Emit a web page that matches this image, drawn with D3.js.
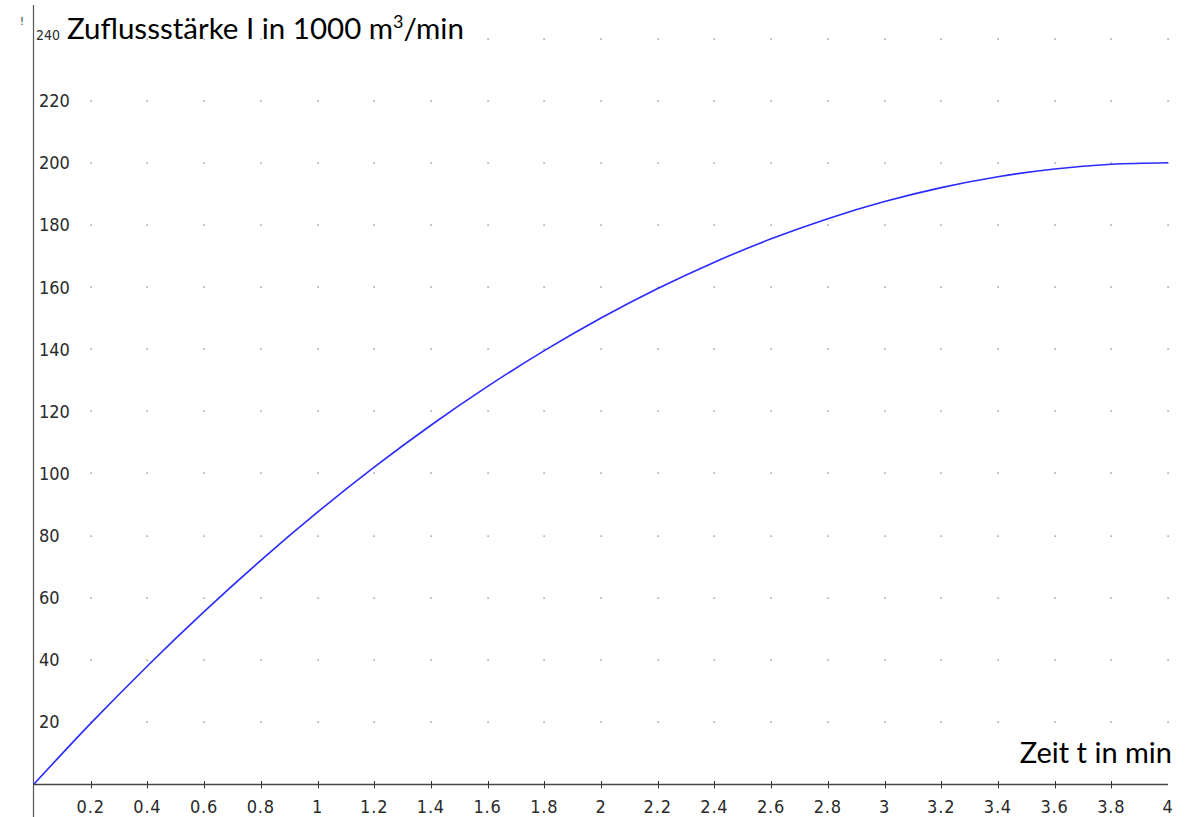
<!DOCTYPE html>
<html>
<head>
<meta charset="utf-8">
<script src="https://cdn.jsdelivr.net/npm/d3@7/dist/d3.min.js"></script>
<style>
  html, body { margin: 0; padding: 0; background: #fff; }
  svg { display: block; }
  .tick-label { font-family: "DejaVu Sans Condensed", "DejaVu Sans", sans-serif; font-stretch: condensed; fill: #2a2a2a; }
  .title { font-family: Lato, "Open Sans", sans-serif; fill: #000; }
</style>
</head>
<body>
<svg id="chart" width="1194" height="817"></svg>
<script>
const times = [0, 0.2, 0.4, 0.6, 0.8, 1, 1.2, 1.4, 1.6, 1.8, 2, 2.2, 2.4, 2.6, 2.8, 3, 3.2, 3.4, 3.6, 3.8, 4];
const inflow = [0, 19.5, 38, 55.5, 72, 87.5, 102, 115.5, 128, 139.5, 150, 159.5, 168, 175.5, 182, 187.5, 192, 195.5, 198, 199.5, 200];

const xTicks = [0.2, 0.4, 0.6, 0.8, 1, 1.2, 1.4, 1.6, 1.8, 2, 2.2, 2.4, 2.6, 2.8, 3, 3.2, 3.4, 3.6, 3.8, 4];
const xTickLabels = ["0.2", "0.4", "0.6", "0.8", "1", "1.2", "1.4", "1.6", "1.8", "2", "2.2", "2.4", "2.6", "2.8", "3", "3.2", "3.4", "3.6", "3.8", "4"];
const yTicks = [20, 40, 60, 80, 100, 120, 140, 160, 180, 200, 220];
const yTopTick = 240;

const svg = d3.select("#chart");
const x = d3.scaleLinear().domain([0, 4]).range([34, 1168]);
const y = d3.scaleLinear().domain([0, 240]).range([784, 38.5]);

// Punktraster an allen Gitterschnittpunkten
const gridRows = yTicks.concat([yTopTick]);
const dots = [];
gridRows.forEach(r => xTicks.forEach(c => dots.push([c, r])));
svg.append("g").selectAll("rect").data(dots).join("rect")
  .attr("x", d => Math.round(x(d[0])) - 0.5)
  .attr("y", d => Math.round(y(d[1])) - 0.5)
  .attr("width", 1.2).attr("height", 1.2)
  .attr("fill", "#666");

// y-Achse
svg.append("line")
  .attr("x1", 33.5).attr("x2", 33.5).attr("y1", 5).attr("y2", 817)
  .attr("stroke", "#555").attr("stroke-width", 1.2);

// x-Achse mit Teilstrichen
svg.append("line")
  .attr("x1", 33).attr("x2", 1168).attr("y1", 784.5).attr("y2", 784.5)
  .attr("stroke", "#444").attr("stroke-width", 1.5);
svg.append("g").selectAll("line").data(xTicks.slice(0, -1)).join("line")
  .attr("x1", d => Math.round(x(d)) + 0.5).attr("x2", d => Math.round(x(d)) + 0.5)
  .attr("y1", 781).attr("y2", 788.5)
  .attr("stroke", "#333").attr("stroke-width", 1);

// Beschriftung der x-Achse
svg.append("g").selectAll("text").data(xTicks).join("text")
  .attr("class", "tick-label")
  .attr("x", d => x(d))
  .attr("y", 812.5)
  .attr("text-anchor", "middle")
  .attr("font-size", 18)
  .attr("letter-spacing", 0.8)
  .text((d, i) => xTickLabels[i]);

// Beschriftung der y-Achse
svg.append("g").selectAll("text").data(yTicks).join("text")
  .attr("class", "tick-label")
  .attr("x", 39)
  .attr("y", d => y(d) + 6.5)
  .attr("font-size", 18)
  .text(d => d);
svg.append("text")
  .attr("class", "tick-label")
  .attr("x", 36).attr("y", 40)
  .attr("font-size", 14)
  .text(yTopTick);

svg.append("text")
  .attr("class", "tick-label")
  .attr("x", 20).attr("y", 25)
  .attr("font-size", 11).attr("fill", "#555")
  .text("!");

// Achsentitel
const yTitle = svg.append("text").attr("class", "title")
  .attr("x", 67).attr("y", 39).attr("font-size", 29.5);
yTitle.append("tspan").text("Zuflussstärke I in 1000 m");
yTitle.append("tspan").attr("font-size", 18).attr("dy", -11).text("3");
yTitle.append("tspan").attr("dy", 11).text("/min");

svg.append("text").attr("class", "title")
  .attr("x", 1172).attr("y", 763).attr("text-anchor", "end")
  .attr("font-size", 29)
  .text("Zeit t in min");

// Kurve der Zuflussstärke
const line = d3.line()
  .x((d, i) => x(times[i]))
  .y(d => y(d))
  .curve(d3.curveMonotoneX);
svg.append("path")
  .datum(inflow)
  .attr("d", line)
  .attr("fill", "none")
  .attr("stroke", "#2a2aff")
  .attr("stroke-width", 1.6);
</script>
</body>
</html>
